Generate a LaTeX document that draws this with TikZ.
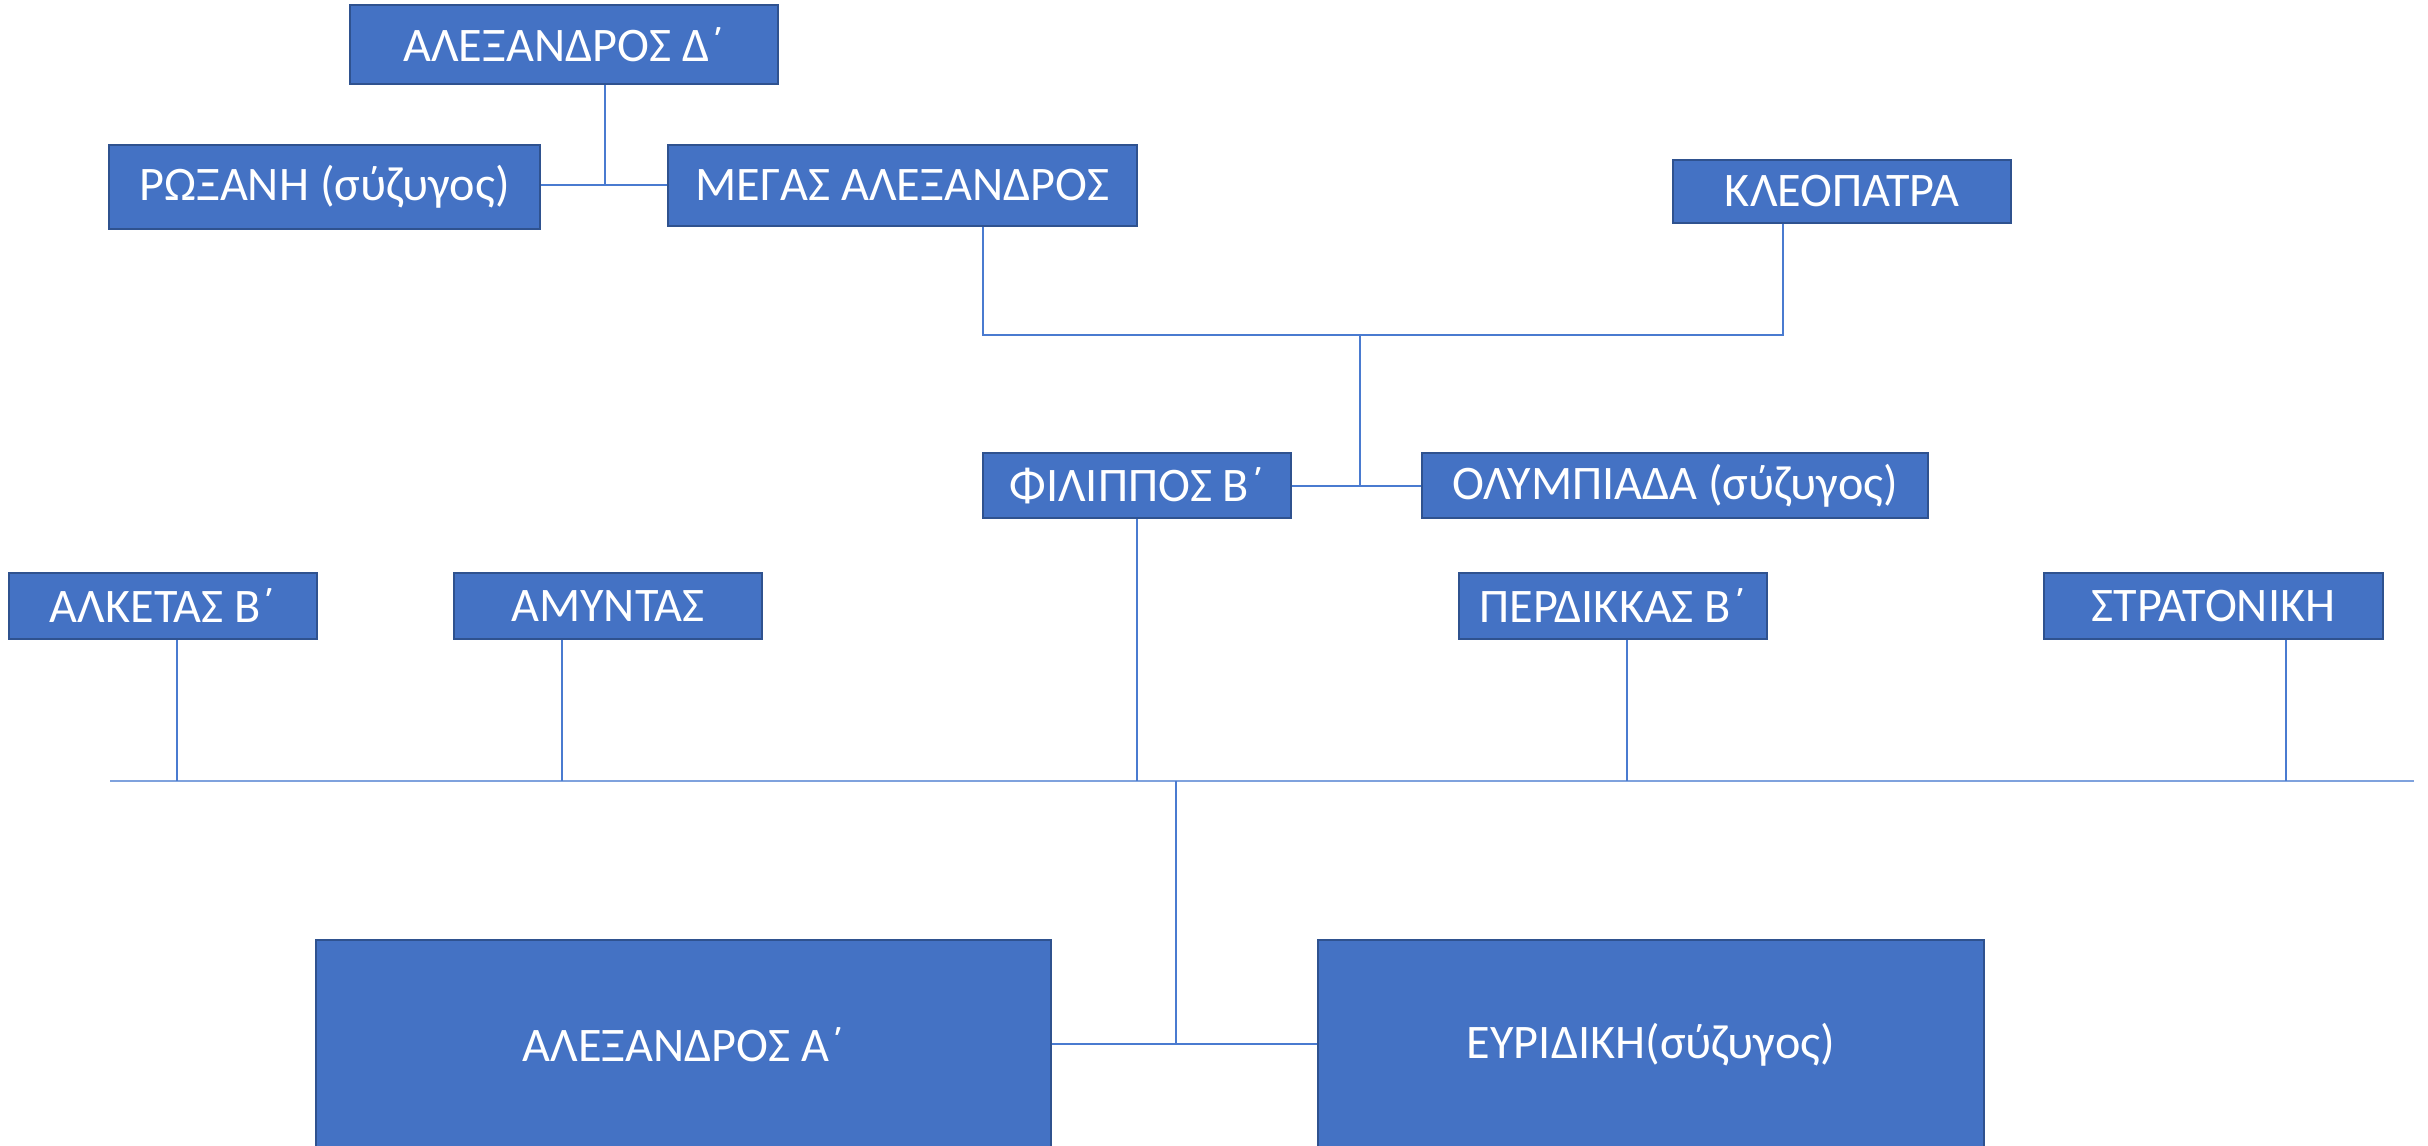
\documentclass[tikz,border=0pt]{standalone}
\usepackage{fontspec}
\setmainfont{Carlito}
\definecolor{boxfill}{HTML}{4472C4}
\definecolor{boxline}{HTML}{2F528F}
\definecolor{conn}{HTML}{4A7BD0}
\definecolor{busline}{HTML}{7FA2DD}
\begin{document}
\begin{tikzpicture}[x=0.5pt,y=-0.5pt,
  person/.style={draw=boxline, line width=1.3pt, fill=boxfill, text=white,
    font=\fontsize{24.1}{28}\selectfont, inner sep=0pt},
  link/.style={draw=conn, line width=0.8pt},
  buslink/.style={draw=busline, line width=1.1pt}]
\useasboundingbox (0,0) rectangle (2428,1145);
\clip (0,0) rectangle (2428,1145);

% people
\node[person, minimum width=214pt, minimum height=39.5pt] (AD) at (564,44.5) {ΑΛΕΞΑΝΔΡΟΣ Δ΄};
\node[person, minimum width=215.5pt, minimum height=42pt] (RX) at (324.5,187) {ΡΩΞΑΝΗ (σύζυγος)};
\node[person, minimum width=234.5pt, minimum height=40.5pt] (MA) at (902.5,185.5) {ΜΕΓΑΣ ΑΛΕΞΑΝΔΡΟΣ};
\node[person, minimum width=169pt, minimum height=31.5pt] (KL) at (1842,191.5) {ΚΛΕΟΠΑΤΡΑ};
\node[person, minimum width=154pt, minimum height=32.5pt] (FB) at (1137,485.5) {ΦΙΛΙΠΠΟΣ Β΄};
\node[person, minimum width=253pt, minimum height=32.5pt] (OL) at (1675,485.5) {ΟΛΥΜΠΙΑΔΑ (σύζυγος)};
\node[person, minimum width=154pt, minimum height=33pt] (AK) at (163,606) {ΑΛΚΕΤΑΣ Β΄};
\node[person, minimum width=154pt, minimum height=33pt] (AM) at (608,606) {ΑΜΥΝΤΑΣ};
\node[person, minimum width=154pt, minimum height=33pt] (PB) at (1613,606) {ΠΕΡΔΙΚΚΑΣ Β΄};
\node[person, minimum width=169.5pt, minimum height=33pt] (ST) at (2213.5,606) {ΣΤΡΑΤΟΝΙΚΗ};
\node[person, minimum width=367.5pt, minimum height=105pt] (AA) at (683.5,1045) {ΑΛΕΞΑΝΔΡΟΣ Α΄};
\node[person, minimum width=333pt, minimum height=105pt] (EY) at (1651,1045) {ΕΥΡΙΔΙΚΗ(σύζυγος)};

% junction points
\coordinate (j1) at (605,185);
\coordinate (j2) at (1360,335);
\coordinate (j3) at (1360,486);
\coordinate (busL) at (110,781);
\coordinate (busR) at (2414,781);
\coordinate (bAK) at (177,781);
\coordinate (bAM) at (562,781);
\coordinate (bFB) at (1137,781);
\coordinate (bPB) at (1627,781);
\coordinate (bST) at (2286,781);
\coordinate (bDown) at (1176,781);
\coordinate (j4) at (1176,1044);

% Alexandros IV from Roxane and Megas Alexandros
\draw[link] (RX.east |- j1) -- (MA.west |- j1);
\draw[link] (AD.south -| j1) -- (j1);

% Megas Alexandros and Kleopatra from Filippos and Olympiada
\draw[link] (MA.south -| 983,0) |- (j2) -| (KL.south -| 1783,0);
\draw[link] (j2) -- (j3);
\draw[link] (FB.east |- j3) -- (OL.west |- j3);

% siblings bus
\draw[buslink] (busL) -- (busR);
\draw[link] (AK.south -| bAK) -- (bAK);
\draw[link] (AM.south -| bAM) -- (bAM);
\draw[link] (FB.south) -- (bFB);
\draw[link] (PB.south -| bPB) -- (bPB);
\draw[link] (ST.south -| bST) -- (bST);

% parents
\draw[link] (bDown) -- (j4);
\draw[link] (AA.east |- j4) -- (EY.west |- j4);
\end{tikzpicture}
\end{document}
